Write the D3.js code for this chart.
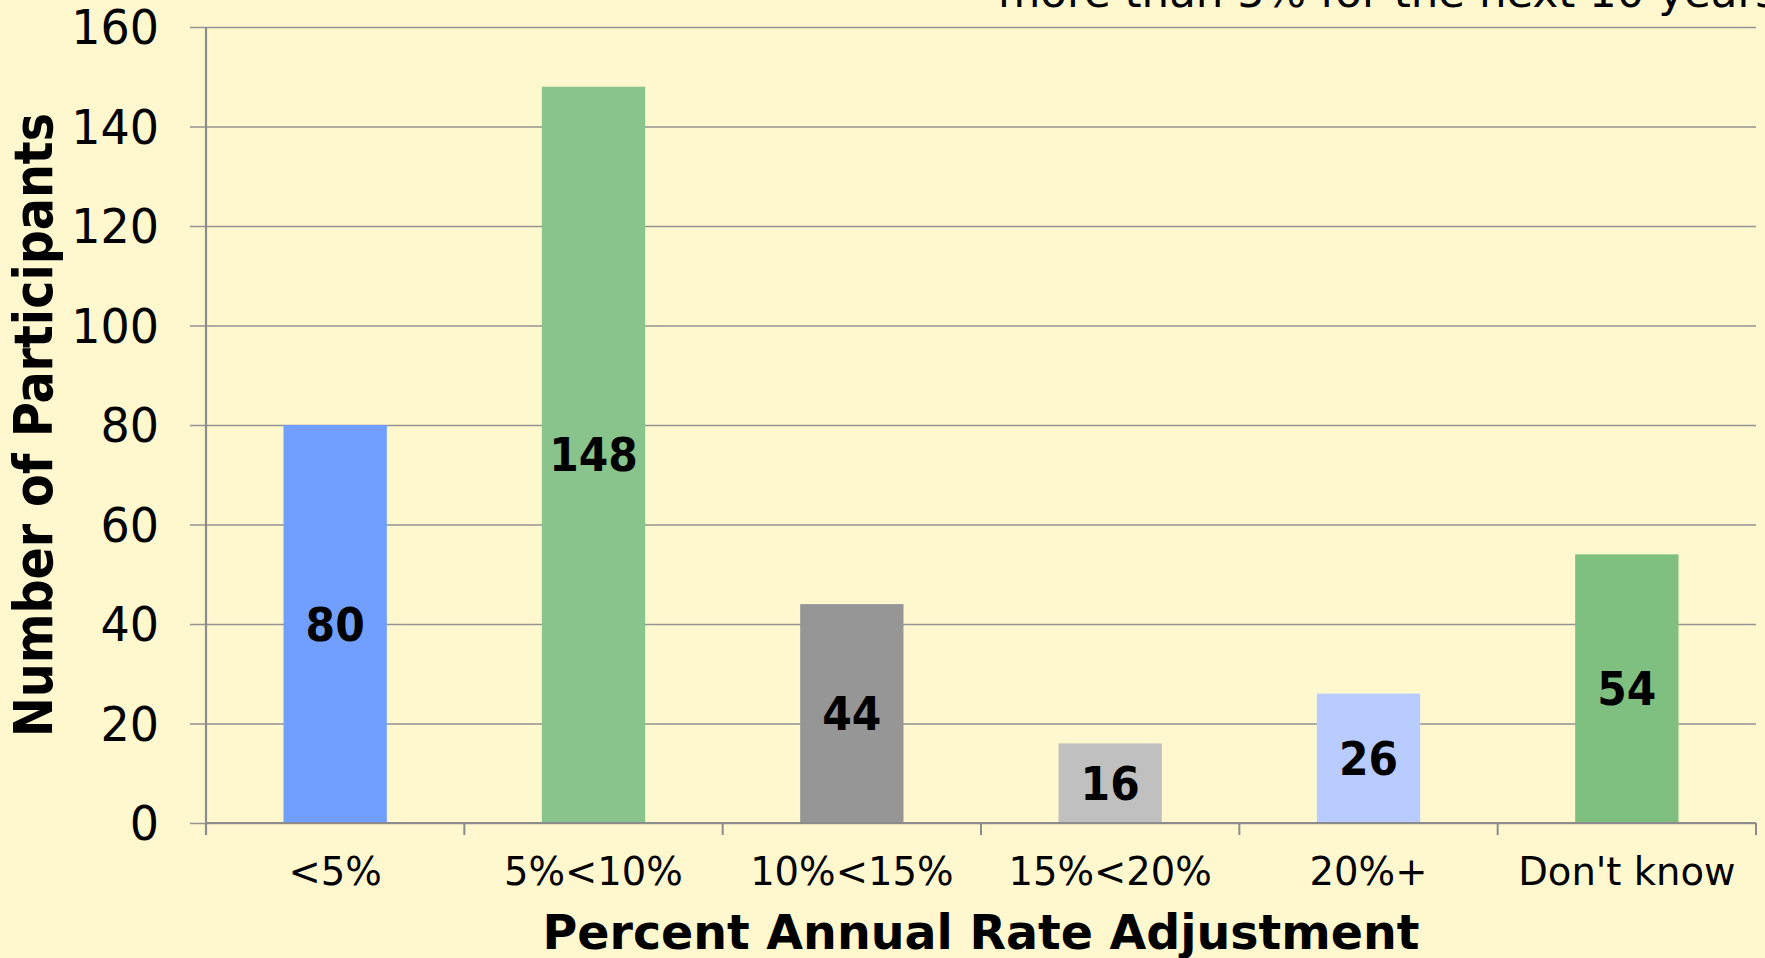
<!DOCTYPE html>
<html>
<head>
<meta charset="utf-8">
<script src="https://cdn.jsdelivr.net/npm/d3@7"></script>
<style>
  body { margin: 0; background: #fff8cf; }
  svg { display: block; }
</style>
</head>
<body>
<script>
const width = 1765;
const height = 958;

// data
const categories = ["<5%", "5%<10%", "10%<15%", "15%<20%", "20%+", "Don't know"];
const counts = [80, 148, 44, 16, 26, 54];
const barColors = ["#709fff", "#88c48c", "#969696", "#c0c0c0", "#b8ccff", "#7fbf7f"];
const yTicks = [0, 20, 40, 60, 80, 100, 120, 140, 160];
const xTitle = "Percent Annual Rate Adjustment";
const yTitle = "Number of Participants";
const topNote = "more than 5% for the next 10 years";

const margin = { top: 27, right: 9, bottom: 135, left: 206 };
const plotW = width - margin.left - margin.right;
const plotH = height - margin.top - margin.bottom;

const svg = d3.select("body")
    .append("svg")
    .attr("width", width)
    .attr("height", height);

svg.append("rect")
    .attr("width", width)
    .attr("height", height)
    .attr("fill", "#fff8cf");

const g = svg.append("g")
    .attr("transform", `translate(${margin.left},${margin.top})`);

const x = d3.scaleBand()
    .domain(categories)
    .range([0, plotW])
    .paddingInner(0.6)
    .paddingOuter(0.3);

const y = d3.scaleLinear()
    .domain([0, 160])
    .range([plotH, 0]);

// gridlines + y labels
const yAxis = g.append("g")
    .call(d3.axisLeft(y)
        .tickValues(yTicks)
        .tickSizeInner(-plotW)
        .tickSizeOuter(0)
        .tickPadding(0));

yAxis.select(".domain").remove();
yAxis.selectAll(".tick line")
    .attr("x1", -16)
    .attr("stroke", "#939393")
    .attr("stroke-width", 1.6);
yAxis.selectAll(".tick text")
    .attr("x", -47)
    .attr("dy", "0.34em")
    .attr("transform", "scale(1,1.06)")
    .attr("fill", "#000")
    .style("font-family", "'DejaVu Sans', Verdana, sans-serif")
    .style("font-size", "46px");

// bars
g.selectAll("rect.bar")
    .data(counts)
    .join("rect")
    .attr("class", "bar")
    .attr("x", (d, i) => x(categories[i]))
    .attr("y", d => y(d))
    .attr("width", x.bandwidth())
    .attr("height", d => y(0) - y(d))
    .attr("fill", (d, i) => barColors[i]);

// value labels, centred in the bars
g.selectAll("text.val")
    .data(counts)
    .join("text")
    .attr("class", "val")
    .attr("transform", (d, i) =>
        `translate(${x(categories[i]) + x.bandwidth() / 2},${(y(d) + y(0)) / 2}) scale(1,1.08)`)
    .attr("text-anchor", "middle")
    .attr("dy", "0.36em")
    .style("font-family", "'DejaVu Sans', Verdana, sans-serif")
    .style("font-weight", "bold")
    .style("font-size", "42.5px")
    .text(d => d);

// axes lines
const step = x.step();
const edges = d3.range(categories.length + 1).map(i => i * step);

g.append("line")
    .attr("x1", 0).attr("x2", 0)
    .attr("y1", y(160)).attr("y2", y(0) + 12)
    .attr("stroke", "#8c8c8c")
    .attr("stroke-width", 2.2);

g.append("line")
    .attr("x1", 0).attr("x2", plotW)
    .attr("y1", y(0)).attr("y2", y(0))
    .attr("stroke", "#8c8c8c")
    .attr("stroke-width", 2.2);

g.selectAll("line.xtick")
    .data(edges)
    .join("line")
    .attr("class", "xtick")
    .attr("x1", d => d).attr("x2", d => d)
    .attr("y1", y(0)).attr("y2", y(0) + 12)
    .attr("stroke", "#8c8c8c")
    .attr("stroke-width", 2);

// x labels
g.selectAll("text.xlab")
    .data(categories)
    .join("text")
    .attr("class", "xlab")
    .attr("x", d => x(d) + x.bandwidth() / 2)
    .attr("y", y(0) + 62)
    .attr("text-anchor", "middle")
    .style("font-family", "'DejaVu Sans', Verdana, sans-serif")
    .style("font-size", "38.5px")
    .text(d => d);

// axis titles
svg.append("text")
    .attr("x", margin.left + plotW / 2)
    .attr("y", 949)
    .attr("text-anchor", "middle")
    .style("font-family", "'DejaVu Sans', Verdana, sans-serif")
    .style("font-weight", "bold")
    .style("font-size", "47.5px")
    .text(xTitle);

svg.append("text")
    .attr("transform", `translate(52,${margin.top + plotH / 2}) rotate(-90)`)
    .attr("text-anchor", "middle")
    .attr("textLength", 624)
    .attr("lengthAdjust", "spacingAndGlyphs")
    .style("font-family", "'Liberation Sans Narrow', 'DejaVu Sans Condensed', sans-serif")
    .style("font-weight", "bold")
    .style("font-size", "53px")
    .text(yTitle);

// cut-off note at the top
svg.append("text")
    .attr("x", 998)
    .attr("y", 7)
    .style("font-family", "'DejaVu Sans', Verdana, sans-serif")
    .style("font-size", "43.5px")
    .text(topNote);
</script>
</body>
</html>
